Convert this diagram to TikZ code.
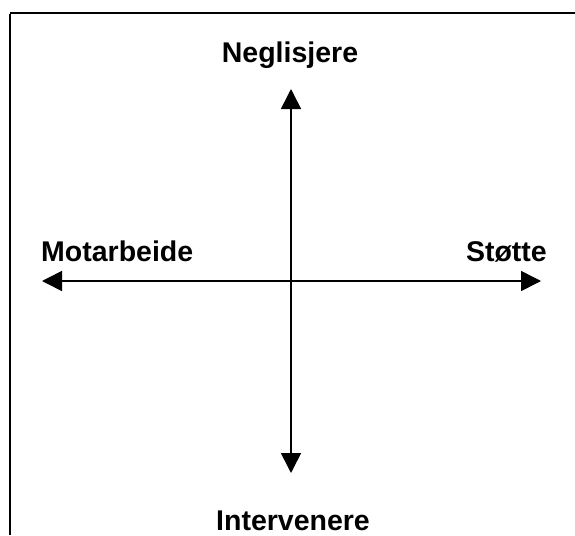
\documentclass[tikz,border=0pt]{standalone}
\usepackage{fontspec}
\setmainfont{Liberation Sans}
\usetikzlibrary{arrows.meta}
\begin{document}
\begin{tikzpicture}[x=1pt,y=-1pt,
  lbl/.style={font=\fontsize{28.5}{33}\selectfont\bfseries, inner sep=0pt},
  axis/.style={line width=1.6pt, -{Triangle[length=20pt,width=20pt]}}]
\useasboundingbox (0,0) rectangle (575,535);
\fill[white] (0,0) rectangle (575,535);
% frame
\coordinate (fl) at (10,13);
\coordinate (fr) at (575,13);
\coordinate (fb) at (10,535);
\draw[line width=2.8pt] (fl) -- (fr);
\draw[line width=2.2pt] ([yshift=-1.4pt]fl) -- (fb);
% axes
\coordinate (c) at (291,281);
\coordinate (top) at (291,89);
\coordinate (bot) at (291,473);
\coordinate (lft) at (42,281);
\coordinate (rgt) at (541,281);
\draw[axis] (c) -- (top);
\draw[axis] (c) -- (bot);
\draw[axis] (c) -- (lft);
\draw[axis] (c) -- (rgt);
% labels
\node[lbl, anchor=base] (n) at (290,63) {Neglisjere};
\node[lbl, anchor=base west] (m) at (41,261) {Motarbeide};
\node[lbl, anchor=base east] (s) at (547,261) {Støtte};
\node[lbl, anchor=base] (i) at (293,530) {Intervenere};
\end{tikzpicture}
\end{document}
